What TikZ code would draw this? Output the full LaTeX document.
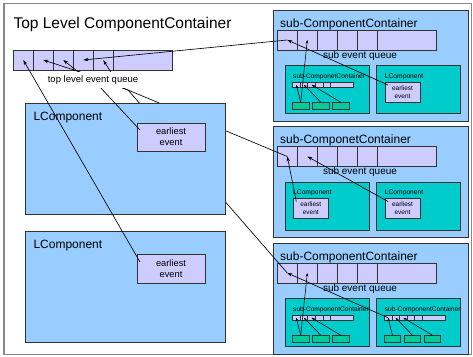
\documentclass[tikz,border=0pt]{standalone}
\usepackage{fontspec}
\setmainfont{Liberation Sans}
\usetikzlibrary{arrows.meta}
\definecolor{lblue}{HTML}{99CCFF}
\definecolor{lav}{HTML}{CCCCFF}
\definecolor{tealc}{HTML}{00CCCC}
\definecolor{greenc}{HTML}{00CC99}
\definecolor{bordc}{HTML}{333333}
\definecolor{outerc}{HTML}{888888}
\tikzset{
 box/.style={draw=bordc, line width=0.8pt, inner sep=0pt, outer sep=0pt, anchor=north west},
 cellbox/.style={box, fill=lav},
 lbox/.style={box, fill=lblue},
 tealbox/.style={box, fill=tealc},
 greenbox/.style={box, fill=greenc, minimum width=16.5, minimum height=7.3, line width=0.6pt},
 evbox/.style={box, fill=lav, align=center},
 arr/.style={-{Stealth[length=5pt,width=3.5pt]}, line width=0.65pt},
 sarr/.style={-{Stealth[length=3.5pt,width=2.6pt]}, line width=0.55pt},
 lbl/.style={anchor=base west, inner sep=0pt},
}
\newcommand\mkqueue[7]{%
 \foreach \i in {1,...,5}{\node[cellbox, line width=#7, minimum width=#4, minimum height=#6] (#1\i) at ({#2+(\i-1)*#4},{#3}) {};}
 \node[cellbox, line width=#7, minimum width=#5, minimum height=#6] (#1r) at ({#2+5*#4},{#3}) {};
}
\newcommand\subbox[3]{%
 \node[lbox, minimum width=195, minimum height=111] (#1) at (273,{#2}) {};
 \node[lbl, font=\fontsize{12}{14}\selectfont] (#1t) at (280,{#2+17}) {#3};
 \mkqueue{#1q}{277.3}{#2+20}{20}{59.4}{20}{0.7pt}
 \node[font=\fontsize{10}{12}\selectfont, inner sep=0pt] (#1lab) at (360,{#2+45.5}) {sub event queue};
}
\newcommand\innerq[4]{%
 \node[tealbox, minimum width=84, minimum height=48] (#1) at ({#2},{#3}) {};
 \node[lbl, font=\fontsize{6.6}{8}\selectfont] (#1t) at ({#2+8},{#3+12.5}) {#4};
 \mkqueue{#1q}{#2+7.5}{#3+16.5}{7.6}{23}{5.5}{0.5pt}
 \node[greenbox] (#1g1) at ({#2+7.5},{#3+36.7}) {};
 \node[greenbox] (#1g2) at ({#2+27.5},{#3+36.7}) {};
 \node[greenbox] (#1g3) at ({#2+47.5},{#3+36.7}) {};
 \draw[sarr] (#1g1.north) -- (#1q1.center);
 \draw[sarr] (#1g2.north) -- (#1q2.center);
 \draw[sarr] (#1g3.north) -- (#1q3.center);
}
\newcommand\innerl[3]{%
 \node[tealbox, minimum width=84, minimum height=48] (#1) at ({#2},{#3}) {};
 \node[lbl, font=\fontsize{6.7}{8}\selectfont] (#1t) at ({#2+8},{#3+12.5}) {LComponent};
 \node[evbox, minimum width=35, minimum height=20, font=\fontsize{6.5}{8}\selectfont] (#1e) at ({#2+8.3},{#3+16.5}) {earliest\\event};
}
\begin{document}
\begin{tikzpicture}[x=1pt,y=-1pt]
\useasboundingbox (0,0) rectangle (473,356);
\draw[draw=outerc, line width=1.2pt, fill=white] (4,3.5) rectangle (471.5,354.5);
\node[lbl, font=\fontsize{15.5}{18}\selectfont] (title) at (13.3,28) {Top Level ComponentContainer};
\mkqueue{tq}{13.3}{50}{20}{59.4}{20}{0.7pt}
% sub container 1
\subbox{sa}{10}{sub-ComponentContainer}
\innerq{sai}{285}{65.5}{sub-ComponetContainer}
\innerl{sal}{376.7}{65.5}
\draw[sarr] (saig1.north) -- (saq2.center);
\draw[arr] ([xshift=3pt,yshift=-3pt]sale.north west) -- (saq1.center);
% sub container 2
\subbox{sb}{126.5}{sub-ComponetContainer}
\innerl{sbi}{285}{182}
\innerl{sbl}{376.7}{182}
\draw[arr] ([xshift=3pt,yshift=-3pt]sbie.north west) -- (sbq1.center);
\draw[arr] ([xshift=3pt,yshift=-3pt]sble.north west) -- (sbq2.center);
% sub container 3
\subbox{sc}{243}{sub-ComponentContainer}
\innerq{sci}{285}{298.5}{sub-ComponentContainer}
\innerq{scl}{376.7}{298.5}{sub-ComponentContainer}
\draw[sarr] (scig1.north) -- (scq2.center);
\draw[arr] (sclq1.center) -- (scq1.center);
% lines from sub queues to top queue (pass under LComponent)
\coordinate (f1) at (128,90);
\coordinate (f2) at (77,71);
\draw[arr] (sbq1.center) -- (f1) -- (f2) -- (tq2.center);
\draw[arr] (scq1.center) -- (f1) -- (f2) -- (tq3.center);
% LComponents
\node[lbox, minimum width=200, minimum height=111] (lc1) at (25,103) {};
\node[lbl, font=\fontsize{12}{14}\selectfont] (lc1t) at (33.3,120) {LComponent};
\node[evbox, minimum width=68, minimum height=28, font=\fontsize{9.3}{10.7}\selectfont] (ev1) at (137,123) {earliest\\event};
\node[lbox, minimum width=200, minimum height=111] (lc2) at (25,231) {};
\node[lbl, font=\fontsize{12}{14}\selectfont] (lc2t) at (33.3,248) {LComponent};
\node[evbox, minimum width=68, minimum height=29, font=\fontsize{9.3}{10.7}\selectfont] (ev2) at (137,254) {earliest\\event};
\coordinate (g1) at (99,86);
\coordinate (g2) at (112,74);
\draw[arr] ([xshift=3pt,yshift=-7pt]ev1.north west) -- (g1) -- (g2) -- (tq5.center);
\node[fill=white, minimum width=96, minimum height=16, inner sep=0pt, font=\fontsize{9.5}{11}\selectfont] (tql) at (93,80) {top level event queue};
\draw[arr] ([xshift=3pt,yshift=-8pt]ev2.north west) -- (tq1.center);
\draw[arr] (saq1.center) -- (tq4.center);
\end{tikzpicture}
\end{document}
